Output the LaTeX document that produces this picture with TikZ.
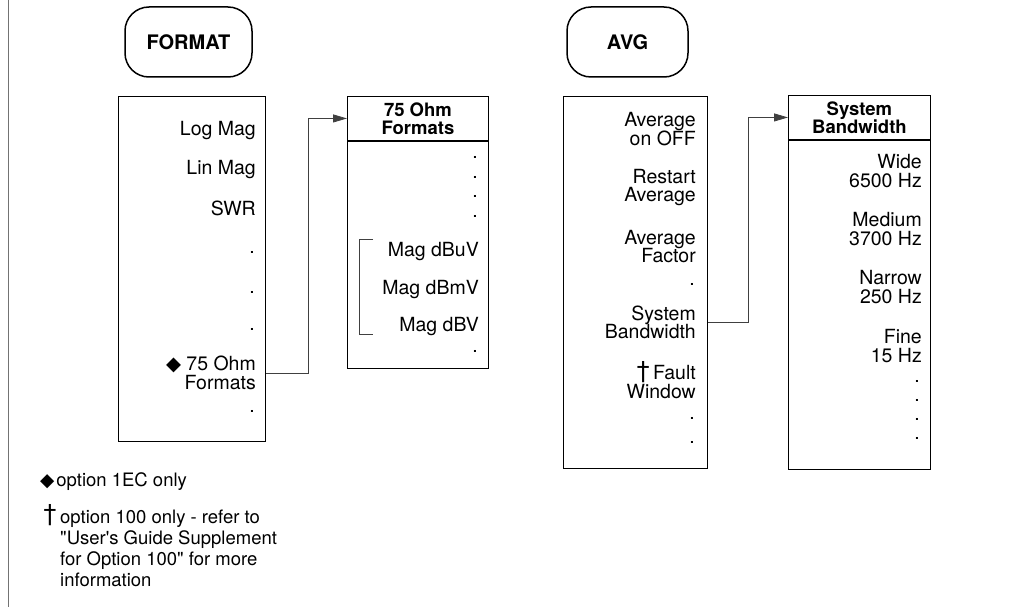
\documentclass[tikz,border=0pt]{standalone}
\usepackage{fontspec}
\setmainfont{TeX Gyre Heros}
\newfontfamily\symfont{DejaVu Sans}
\usetikzlibrary{arrows.meta}
\begin{document}
\begin{tikzpicture}[x=1pt,y=-1pt,
  every node/.style={inner sep=0pt, font=\fontsize{19.5}{18.5}\selectfont},
  keybox/.style={draw, line width=1.5pt, rounded corners=24pt, font=\bfseries\fontsize{20}{20}\selectfont},
  menubox/.style={draw, line width=0.9pt, anchor=north west},
  headbox/.style={draw, line width=0.9pt, anchor=north west, align=center, font=\bfseries\fontsize{18.5}{18}\selectfont},
  item/.style={anchor=east, align=right},
  link/.style={line width=0.8pt, black!75},
  arr/.style={link, -{Triangle[length=14pt,width=8pt]}},
  note/.style={anchor=north west, align=left, font=\fontsize{18.5}{21}\selectfont}]
\useasboundingbox (0,0) rectangle (1031,607);
\draw[black!55, line width=1pt] (8,0) -- (8,607);

% FORMAT column
\node[keybox, minimum width=127pt, minimum height=70pt] (fkey) at (188.5,42) {FORMAT};
\node[menubox, minimum width=147pt, minimum height=345pt] (fmenu) at (118,96) {};
\node[item] (flog) at (256,131) {Log Mag};
\node[item] (flin) at (256,170) {Lin Mag};
\node[item] (fswr) at (256,208) {SWR};
\node[item] (fd1) at (255,252) {.};
\node[item] (fd2) at (255,292) {.};
\node[item] (fd3) at (255,329) {.};
\node[item] (f75) at (256,373) {{\symfont ◆} 75 Ohm\\Formats};
\node[item] (fd4) at (255,411) {.};

% 75 Ohm Formats
\node[headbox, minimum width=141pt, minimum height=44pt] (ohead) at (347,96) {75 Ohm\\Formats};
\node[menubox, minimum width=141pt, minimum height=227pt] (obody) at (ohead.south west) {};
\node[item] (od1) at (478,157) {.};
\node[item] (od2) at (478,177) {.};
\node[item] (od3) at (478,196) {.};
\node[item] (od4) at (478,216) {.};
\node[item] (obuv) at (479,252) {Mag dBuV};
\node[item] (obmv) at (479,290) {Mag dBmV};
\node[item] (obv) at (479,327) {Mag dBV};
\node[item] (od5) at (478,351) {.};
\draw[link] (373,239) -- (359,239) -- (359,334) -- (373,334);

\draw[arr] (fmenu.east |- f75) -- ++(42,0) |- (ohead.west);

% AVG column
\node[keybox, minimum width=121pt, minimum height=70pt] (akey) at (627.5,42) {AVG};
\node[menubox, minimum width=144pt, minimum height=372pt] (amenu) at (563,96) {};
\node[item] (aavg) at (696,129) {Average\\on OFF};
\node[item] (arst) at (696,187.5) {Restart\\Average};
\node[item] (afac) at (696,246.5) {Average\\Factor};
\node[item] (ad1) at (695,284) {.};
\node[item] (asys) at (696,322.5) {System\\Bandwidth};
\node[item] (aflt) at (696,380) {\raisebox{1pt}{\fontsize{24}{24}\selectfont †}\,Fault\\Window};
\node[item] (ad2) at (695,418) {.};
\node[item] (ad3) at (695,442) {.};

% System Bandwidth
\node[headbox, minimum width=142pt, minimum height=44pt] (shead) at (788,95) {System\\Bandwidth};
\node[menubox, minimum width=142pt, minimum height=329pt] (sbody) at (shead.south west) {};
\node[item] (swide) at (922,171) {Wide\\6500 Hz};
\node[item] (smed) at (922,229) {Medium\\3700 Hz};
\node[item] (snar) at (922,287) {Narrow\\250 Hz};
\node[item] (sfine) at (922,346) {Fine\\15 Hz};
\node[item] (sd1) at (920,381) {.};
\node[item] (sd2) at (920,400) {.};
\node[item] (sd3) at (920,419) {.};
\node[item] (sd4) at (920,438) {.};

\draw[arr] (amenu.east |- asys) -- ++(40,0) |- (shead.west);

% footnotes
\node[anchor=west, font=\fontsize{18.5}{21}\selectfont] (n1) at (40,482) {{\symfont ◆}\kern2pt option 1EC only};
\node[anchor=center, font=\fontsize{24}{24}\selectfont] (dg) at (50,515) {†};
\node[note] (n2) at (60,510) {option 100 only - refer to\\\textquotedbl User\textquotesingle s Guide Supplement\\for Option 100\textquotedbl{} for more\\information};
\end{tikzpicture}
\end{document}
